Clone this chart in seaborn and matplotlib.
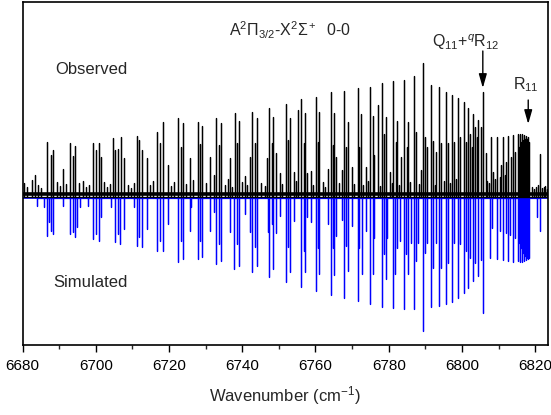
import matplotlib
matplotlib.use("Agg")
import matplotlib.pyplot as plt
from matplotlib.ticker import MultipleLocator
import numpy as np
import pandas as pd
import seaborn as sns

# observed spectrum: strong lines (cm-1) and heights (arb.)
obs_wn = [6686.6, 6687.7, 6688.2, 6693.1, 6693.8, 6694.4, 6699.3, 6700.2, 6700.8, 6701.3,
          6704.7, 6705.2, 6706.1, 6706.8, 6707.6, 6711.2, 6711.9, 6712.5, 6713.9,
          6716.8, 6717.5, 6718.3, 6719.7, 6722.5, 6723.2, 6723.7, 6725.7,
          6727.8, 6728.6, 6729.1, 6731.3, 6732.4, 6732.9, 6733.6, 6734.2, 6736.7,
          6738.0, 6738.5, 6739.1, 6740.7, 6742.0, 6742.7, 6743.4, 6744.0,
          6746.9, 6747.4, 6748.0, 6748.5, 6749.3, 6750.2, 6751.9, 6752.4, 6753.0,
          6754.2, 6755.1, 6756.1, 6756.8, 6757.2, 6757.7, 6758.8, 6760.2, 6760.8,
          6761.1, 6763.3, 6764.2, 6764.8, 6765.1, 6765.7, 6767.3, 6767.9, 6768.4,
          6768.8, 6769.9, 6771.5, 6772.0, 6772.4, 6773.8, 6775.0, 6775.6, 6776.1,
          6777.1, 6778.1, 6778.7, 6779.2, 6780.3, 6781.2, 6782.0, 6782.3, 6783.4,
          6784.2, 6784.9, 6785.2, 6786.8, 6787.4, 6788.7, 6789.3, 6790.0, 6790.5,
          6791.6, 6792.1, 6793.0, 6793.8, 6794.3, 6795.7, 6796.3, 6797.2, 6797.7,
          6799.0, 6799.6, 6800.5, 6801.0, 6801.7, 6802.3, 6802.7, 6803.0, 6803.7,
          6804.0, 6804.5, 6805.1, 6805.3, 6805.7, 6806.5,
          6807.9, 6808.6, 6809.6, 6810.7, 6811.2, 6812.0, 6812.6, 6813.3, 6813.9,
          6814.5, 6815.2, 6815.6, 6815.9, 6816.2, 6816.5, 6816.8, 6817.0, 6817.3,
          6817.5, 6817.8, 6818.1, 6818.4, 6820.1, 6821.2, 6822.3]
obs_h = [55, 42, 47, 54, 41, 51, 54, 47, 54, 40,
         59, 47, 48, 60, 39, 61, 57, 47, 39,
         65, 54, 75, 32, 79, 50, 74, 39,
         75, 53, 71, 40, 22, 79, 52, 74, 39,
         84, 54, 76, 21, 40, 85, 54, 79,
         39, 89, 54, 80, 44, 24, 93, 57, 79,
         25, 87, 98, 54, 84, 24, 26, 100, 55,
         85, 28, 105, 52, 84, 40, 27, 106, 50,
         75, 30, 109, 50, 83, 30, 110, 81, 42,
         92, 114, 63, 80, 25, 116, 55, 76, 40,
         117, 50, 75, 121, 65, 27, 134, 60, 50,
         112, 56, 45, 110, 54, 105, 54, 102, 55,
         99, 60, 95, 55, 89, 63, 50, 83, 70,
         60, 77, 65, 70, 105, 44,
         60, 25, 60, 32, 60, 35, 61, 40, 62,
         45, 63, 50, 63, 55, 63, 57, 62, 58,
         61, 58, 60, 55, 10, 43, 10]

# observed weak lines / noise floor
weak_wn = [6680.5, 6681.3, 6682.6, 6683.4, 6684.2, 6685.1, 6689.4, 6690.2, 6691.0,
           6691.9, 6695.5, 6696.4, 6697.3, 6698.1, 6702.3, 6703.2, 6704.0, 6708.7,
           6709.5, 6710.4, 6714.8, 6715.6, 6720.6, 6721.4, 6724.6, 6726.6, 6730.2,
           6735.2, 6736.0, 6737.3, 6740.0, 6741.3, 6745.2, 6746.1, 6750.9, 6754.8,
           6759.4, 6762.0, 6762.7, 6766.5, 6770.6, 6773.1, 6774.4, 6777.6, 6780.8,
           6782.8, 6785.8, 6788.2, 6792.6, 6795.0, 6796.8, 6798.4, 6802.9, 6806.9,
           6807.3, 6809.0, 6810.3, 6811.7, 6819.0, 6819.6, 6820.7, 6821.8, 6822.8,
           6823.2]
weak_h = [14, 10, 17, 22, 12, 9, 15, 11, 28, 13, 14, 16, 10, 12, 15, 10, 13, 12,
          9, 14, 12, 16, 11, 15, 13, 17, 14, 12, 18, 10, 15, 12, 14, 11, 13, 16,
          12, 15, 10, 14, 13, 12, 16, 11, 14, 12, 15, 13, 12, 16, 14, 18, 20, 16,
          14, 18, 20, 22, 10, 8, 12, 9, 11, 8]

# simulated spectrum: positions and depths
sim_wn = [6684.0, 6685.9, 6686.6, 6687.3, 6687.7, 6688.2, 6691.1, 6692.9, 6693.7,
          6694.2, 6694.8, 6695.7, 6697.8, 6699.3, 6700.2, 6700.8, 6701.3,
          6704.1, 6705.2, 6706.1, 6706.6, 6707.6, 6710.5, 6711.2, 6711.9, 6712.5,
          6713.9, 6716.8, 6717.5, 6718.3, 6719.7, 6722.5, 6723.2, 6723.7, 6725.7,
          6725.9, 6727.8, 6728.4, 6729.1, 6731.3, 6732.4, 6732.9, 6733.6, 6734.2,
          6736.7, 6737.8, 6738.5, 6739.1, 6740.7, 6742.0, 6742.7, 6743.4, 6744.0,
          6747.1, 6747.4, 6748.0, 6748.5, 6749.3, 6750.2, 6751.9, 6752.4, 6753.0,
          6754.2, 6756.1, 6756.8, 6757.2, 6757.7, 6758.8, 6760.2, 6760.8, 6761.1,
          6763.3, 6764.2, 6764.8, 6765.1, 6765.7, 6767.3, 6767.9, 6768.4, 6768.8,
          6770.0, 6771.5, 6772.0, 6772.6, 6773.9, 6775.0, 6775.6, 6776.1, 6778.1,
          6778.7, 6779.2, 6779.6, 6781.2, 6781.8, 6782.3, 6783.2, 6784.2, 6784.7,
          6785.2, 6786.1, 6786.8, 6787.4, 6788.0, 6789.3, 6790.0, 6790.5, 6791.6,
          6792.1, 6793.0, 6793.8, 6794.3, 6795.7, 6796.3, 6797.2, 6797.7, 6799.0,
          6799.6, 6800.5, 6801.0, 6801.7, 6802.3, 6803.0, 6803.7, 6804.5, 6805.1,
          6805.7, 6807.7, 6808.3, 6809.7, 6810.3, 6811.2, 6812.0, 6812.6, 6813.2,
          6813.9, 6814.5, 6815.2, 6815.6, 6815.9, 6816.2, 6816.5, 6816.8, 6817.0,
          6817.3, 6817.5, 6817.8, 6818.1, 6818.3, 6820.6, 6821.2]
sim_d = [8, 9, 38, 24, 33, 36, 8, 36, 34,
         39, 29, 9, 8, 41, 36, 43, 19,
         9, 44, 36, 46, 31, 9, 48, 39, 49,
         31, 53, 43, 53, 26, 64, 43, 61, 33,
         9, 61, 43, 59, 33, 14, 66, 46, 63,
         34, 71, 46, 68, 16, 34, 74, 49, 68,
         34, 79, 26, 71, 35, 18, 84, 49, 74,
         23, 89, 53, 74, 19, 24, 93, 50, 76,
         26, 97, 50, 77, 38, 22, 100, 48, 73,
         28, 103, 50, 76, 33, 106, 76, 40, 109,
         56, 81, 40, 110, 76, 50, 43, 111, 56,
         76, 45, 111, 63, 45, 133, 55, 45, 109,
         70, 45, 108, 70, 106, 65, 104, 45, 100,
         46, 95, 53, 90, 60, 83, 65, 78, 62,
         115, 60, 30, 61, 33, 62, 35, 63, 37,
         64, 40, 63, 45, 64, 50, 64, 55, 63,
         58, 62, 60, 61, 60, 19, 33]

tick_vals = [6680, 6700, 6720, 6740, 6760, 6780, 6800, 6820]


def stick_trace(pos, amp, base, sign):
    xs, ys = [], []
    for p, a in sorted(zip(pos, amp)):
        xs += [p, p, p]
        ys += [base, base + sign * a, base]
    return pd.DataFrame({"wn": xs, "I": ys})


sns.set_style("ticks")
plt.rcParams["font.family"] = ["Liberation Sans", "DejaVu Sans"]
plt.rcParams["mathtext.fontset"] = "custom"
plt.rcParams["mathtext.rm"] = "Liberation Sans"
plt.rcParams["mathtext.it"] = "Liberation Sans:italic"

fig = plt.figure(figsize=(5.51, 4.15), dpi=100)
ax = fig.add_axes([22.5 / 551, 70 / 415, 525.5 / 551, 343 / 415])

obs_df = stick_trace(obs_wn + weak_wn, obs_h + weak_h, 0, 1)
sim_df = stick_trace(sim_wn, sim_d, -1, -1)

ax.axhline(-1, color="blue", lw=1.2)
sns.lineplot(data=sim_df, x="wn", y="I", sort=False, estimator=None,
             color="blue", lw=0.9, ax=ax)
ax.axhline(2.5, color="black", lw=2.6)
sns.lineplot(data=obs_df, x="wn", y="I", sort=False, estimator=None,
             color="black", lw=0.9, ax=ax)

ax.set_xlim(6680, 6823.5)
ax.set_ylim(-148, 195)
ax.set_yticks([])
ax.set_ylabel("")
ax.set_xticks(tick_vals)
ax.xaxis.set_minor_locator(MultipleLocator(10))
ax.tick_params(axis="x", which="major", length=5, width=1, labelsize=11,
               direction="out", pad=5, colors="black")
ax.tick_params(axis="x", which="minor", length=3, width=1, direction="out")
ax.set_xlabel("Wavenumber (cm$^{-1}$)", fontsize=12, labelpad=8)
for s in ax.spines.values():
    s.set_visible(True)
    s.set_linewidth(1.2)
    s.set_color("black")

ax.text(6698.7, 127, "Observed", fontsize=12, ha="center", va="center")
ax.text(6698.5, -85, "Simulated", fontsize=12, ha="center", va="center")
ax.text(6753.2, 167, r"A$^2\Pi_{3/2}$-X$^2\Sigma^+$  0-0", fontsize=11.5,
        ha="center", va="center")

arrow = dict(arrowstyle="-|>,head_width=0.2,head_length=0.7", color="black",
             lw=1, mutation_scale=12, shrinkA=0, shrinkB=0)
ax.text(6801.1, 155, r"Q$_{11}$+$^{q}$R$_{12}$", fontsize=11.5,
        ha="center", va="center")
ax.annotate("", xy=(6805.7, 109), xytext=(6805.7, 146), arrowprops=arrow)
ax.text(6817.5, 112, r"R$_{11}$", fontsize=11.5, ha="center", va="center")
ax.annotate("", xy=(6818.1, 73), xytext=(6818.1, 97), arrowprops=arrow)

fig.savefig("out.png", dpi=100)
